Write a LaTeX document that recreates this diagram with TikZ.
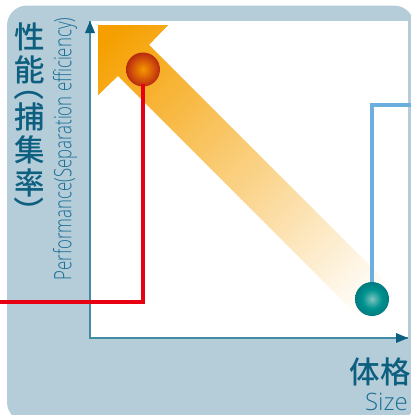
\documentclass[tikz,border=0pt]{standalone}
\usepackage{fontspec}
\newfontfamily\cjk{Noto Sans CJK JP Medium}
\newfontfamily\lightsans{Open Sans Light}
\definecolor{panel}{HTML}{B5CCD9}
\definecolor{axisline}{HTML}{3F8CA3}
\definecolor{axishead}{HTML}{0D5F80}
\definecolor{titlecol}{HTML}{0D5F80}
\definecolor{subcol}{HTML}{1A7096}
\definecolor{arroworange}{HTML}{F5A000}
\definecolor{redline}{HTML}{E60012}
\definecolor{blueline}{HTML}{6CAEDD}
\definecolor{rA}{HTML}{F39800}
\definecolor{rB}{HTML}{D85A08}
\definecolor{rC}{HTML}{B82A10}
\definecolor{tA}{HTML}{7FC4C0}
\definecolor{tB}{HTML}{00938F}
\definecolor{tC}{HTML}{007B7F}
\pgfdeclareradialshading{redballshade}{\pgfpointorigin}{color(0bp)=(rA);color(14bp)=(rB);color(25bp)=(rC);color(50bp)=(rC)}
\pgfdeclareradialshading{tealballshade}{\pgfpointorigin}{color(0bp)=(tA);color(14bp)=(tB);color(25bp)=(tC);color(50bp)=(tC)}
\tikzset{
  ballnode/.style={circle,minimum size=34pt,inner sep=0pt,draw=none},
  axisarrow/.style={draw=axisline,line width=1.3pt},
  axistip/.style={fill=axishead},
  routeline/.style={line width=3.6pt,miter limit=10},
  titletext/.style={text=titlecol,font=\cjk\fontsize{30.5}{33}\selectfont,inner sep=0pt},
  subtext/.style={text=subcol,inner sep=0pt,font=\lightsans\fontsize{24}{26}\selectfont},
}
\begin{document}
\begin{tikzpicture}[x=1pt,y=-1pt]
\useasboundingbox (0,0) rectangle (411,415);
\begin{scope}
\clip (0,0) rectangle (411,415);
\fill[panel,rounded corners=20pt] (7,5.5) rectangle (414,422);
\fill[white] (90.5,21) rectangle (408,338);
% gradient arrow
\begin{scope}
\clip (98,25) -- (168,25) -- (149,45) -- (392,288) -- (361,319) -- (118,76) -- (98,95) -- cycle;
\foreach \k in {120,123,...,700}{
  \pgfmathsetmacro{\t}{max(0,min(100,(675-\k)/5.3))}
  \pgfmathsetmacro{\kk}{\k+4}
  \fill[arroworange!\t!white] (\k,0) -- (0,\k) -- (0,\kk) -- (\kk,0) -- cycle;
}
\end{scope}
% axes
\coordinate (origin) at (90,338);
\coordinate (ytop) at (90,21);
\coordinate (xend) at (408,338);
\draw[axisarrow] (ytop) -- (origin) -- (xend);
\fill[axistip] (ytop) -- (95,33) -- (85,33) -- cycle;
\fill[axistip] (xend) -- (396,343) -- (396,333) -- cycle;
% balls
\node[ballnode,shading=redballshade] (redball) at (143,69.5) {};
\node[ballnode,shading=tealballshade] (tealball) at (372,299) {};
% routes
\coordinate (redin) at (0,302);
\coordinate (bluein) at (411,105);
\draw[routeline,redline] (redin) -| ([yshift=3pt]redball.south);
\draw[routeline,blueline] (bluein) -| (tealball.north);
\end{scope}
% labels
\node[titletext,align=center] (ytitleA) at (29.5,53) {性\\能};
\node[titletext,rotate=-90] (parenA) at (29.5,86) {（};
\node[titletext,align=center] (ytitleB) at (29.5,149.5) {捕\\集\\率};
\node[titletext,rotate=-90] (parenB) at (29.5,212) {）};
\node[subtext,rotate=90] (ysub) at (65,149) {\scalebox{.70}[1]{Performance(Separation efficiency)}};
\node[titletext,anchor=east] (xtitle) at (411,372) {体格};
\node[subtext,anchor=east] (xsub) at (408,402) {Size};
\end{tikzpicture}
\end{document}
